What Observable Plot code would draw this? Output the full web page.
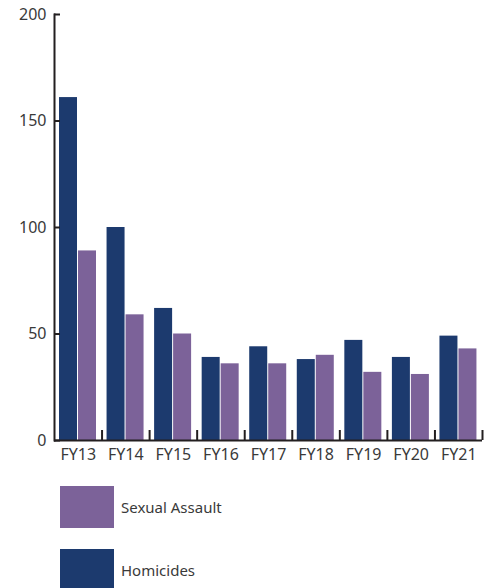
<!DOCTYPE html>
<html>
<head>
<meta charset="utf-8">
<script src="https://cdn.jsdelivr.net/npm/d3@7"></script>
<script src="https://cdn.jsdelivr.net/npm/@observablehq/plot@0.6"></script>
<style>
  body { margin: 0; background: #fff; font-family: "Noto Sans", "Open Sans", sans-serif; }
  #legend { padding-left: 60px; padding-top: 16px; }
  .item { display: flex; align-items: center; height: 42px; margin-bottom: 21px; }
  .sw { width: 54px; height: 42px; margin-right: 7px; }
  .lab { font-size: 15px; color: #3a3a3a; }
</style>
</head>
<body>
<div id="chart"></div>
<div id="legend"></div>
<script>
const years = ["FY13","FY14","FY15","FY16","FY17","FY18","FY19","FY20","FY21"];
const homicides = [161, 100, 62, 39, 44, 38, 47, 39, 49];
const sexualAssault = [89, 59, 50, 36, 36, 40, 32, 31, 43];
const series = ["Homicides", "Sexual Assault"];
const colors = ["#1c3a6e", "#7c6299"];
const yTicks = [0, 50, 100, 150, 200];

const data = [];
years.forEach((y, i) => {
  data.push({year: y, series: "Homicides", value: homicides[i]});
  data.push({year: y, series: "Sexual Assault", value: sexualAssault[i]});
});

const W = 490, ML = 54, MR = 8;
const step = (W - ML - MR) / years.length;

const chart = Plot.plot({
  width: W,
  height: 470,
  marginLeft: ML,
  marginRight: MR,
  marginTop: 14,
  marginBottom: 30,
  style: {fontFamily: "'Noto Sans', 'Open Sans', sans-serif", fontSize: "16px", color: "#3a3a3a", background: "#fff"},
  x: {domain: years, padding: 0, round: false, axis: null, label: null},
  y: {domain: [0, 200], axis: null, label: null},
  color: {domain: series, range: colors},
  marks: [
    Plot.barY(data.filter(d => d.series === "Homicides"), {
      x: "year", y: "value", fill: "series",
      insetLeft: 5, insetRight: step - 5 - 18
    }),
    Plot.barY(data.filter(d => d.series === "Sexual Assault"), {
      x: "year", y: "value", fill: "series",
      insetLeft: 24, insetRight: step - 24 - 18
    }),
    Plot.axisX({tickSize: 0, tickPadding: 8, fontSize: 16, fill: "#3a3a3a", label: null}),
    Plot.ruleX(years, {x: d => d, dx: step / 2, y1: 0, y2: 4.7, stroke: "#231f20", strokeWidth: 2}),
    Plot.axisY({ticks: yTicks, tickSize: -6, tickPadding: 14, strokeWidth: 2, stroke: "#231f20", fontSize: 16, fill: "#3a3a3a", label: null}),
    Plot.ruleY([0], {stroke: "#231f20", strokeWidth: 2}),
    Plot.frame({anchor: "left", stroke: "#231f20", strokeWidth: 2})
  ]
});
document.getElementById("chart").appendChild(chart);

const legend = document.getElementById("legend");
[["Sexual Assault", colors[1]], ["Homicides", colors[0]]].forEach(([name, c]) => {
  const item = document.createElement("div");
  item.className = "item";
  item.innerHTML = `<div class="sw" style="background:${c}"></div><span class="lab">${name}</span>`;
  legend.appendChild(item);
});
</script>
</body>
</html>
